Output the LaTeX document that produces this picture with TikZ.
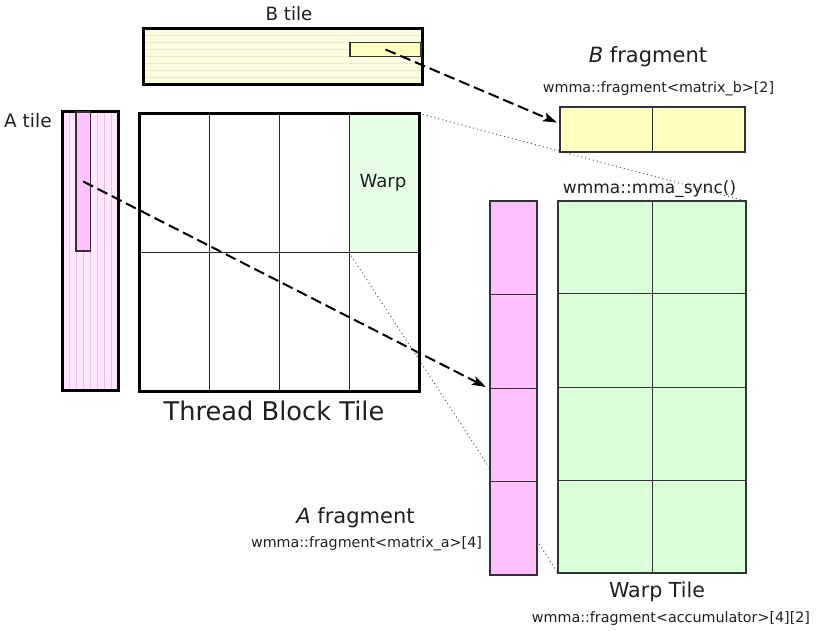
\documentclass[tikz,border=0pt]{standalone}
\usepackage{fontspec}
\setmainfont{DejaVu Sans}
\usetikzlibrary{arrows.meta,calc}
\definecolor{btilefill}{HTML}{FDFDE4}
\definecolor{btileline}{HTML}{EDEBC0}
\definecolor{bfragfill}{HTML}{FFFFC0}
\definecolor{atilefill}{HTML}{FFE6FF}
\definecolor{atileline}{HTML}{E8C0E8}
\definecolor{afragfill}{HTML}{FFC0FF}
\definecolor{warpfill}{HTML}{D8FFD8}
\definecolor{warpcell}{HTML}{E6FFE6}
\definecolor{edgecol}{HTML}{333333}
\newcommand{\fsz}[1]{\fontsize{#1}{#1}\selectfont}
\pgfdeclarelayer{bglayer}
\pgfdeclarelayer{backlayer}
\pgfsetlayers{bglayer,backlayer,main}
\begin{document}
\begin{tikzpicture}[x=1pt,y=-1pt,
  region/.style={rectangle,inner sep=0pt,outer sep=0pt,draw=none},
  thickbox/.style={draw=black,line width=3pt},
  fragedge/.style={draw=edgecol,line width=1.5pt},
  gridline/.style={draw=edgecol,line width=1pt},
  dasharrow/.style={line width=2pt,dash pattern=on 11pt off 5pt,-{Stealth[length=14pt,width=9pt,inset=3pt]}},
  dotline/.style={draw=black!65,line width=1pt,dash pattern=on 1pt off 3pt},
  lbl/.style={inner sep=0pt,anchor=base,text=black!88}
]
\useasboundingbox (0,0) rectangle (820,631);
\begin{pgfonlayer}{bglayer}
  \fill[white] (0,0) rectangle (820,631);
\end{pgfonlayer}

% ---- B tile ----
\node[region,fill=btilefill,minimum width=279pt,minimum height=56pt] (btile) at (283,56.5) {};
\foreach \k in {1,...,7}
  \draw[btileline,line width=1pt] ([yshift=-\k*7pt]btile.north west) -- ([yshift=-\k*7pt]btile.north east);
\draw[thickbox] (btile.north west) rectangle (btile.south east);
\node[region,fill=bfragfill,draw=edgecol,line width=1.2pt,minimum width=71pt,minimum height=14pt] (bsel) at (385.5,49.5) {};

% ---- A tile ----
\node[region,fill=atilefill,minimum width=56pt,minimum height=279pt] (atile) at (90.5,251) {};
\foreach \k in {1,...,7}
  \draw[atileline,line width=1pt] ([xshift=\k*7pt]atile.north west) -- ([xshift=\k*7pt]atile.south west);
\draw[thickbox] (atile.north west) rectangle (atile.south east);
\node[region,fill=afragfill,draw=edgecol,line width=1.2pt,minimum width=14.5pt,minimum height=139pt] (asel) at (83.25,181.5) {};

% ---- Thread block tile ----
\node[region,minimum width=279.5pt,minimum height=278pt] (tb) at (279.25,252.5) {};
\node[region,fill=warpcell,minimum width=69.9pt,minimum height=139pt] (warp) at (384.05,183) {};
\foreach \f in {0.25,0.5,0.75}
  \draw[gridline,draw=black!85] ($(tb.north west)!\f!(tb.north east)$) -- ($(tb.south west)!\f!(tb.south east)$);
\draw[gridline,draw=black!85] (tb.west) -- (tb.east);
\draw[thickbox] (tb.north west) rectangle (tb.south east);

% ---- B fragment ----
\node[region,fill=bfragfill,minimum width=185pt,minimum height=45pt] (bfrag) at (652.5,129.5) {};
\draw[gridline] (bfrag.north) -- (bfrag.south);
\draw[fragedge] (bfrag.north west) rectangle (bfrag.south east);

% ---- Warp tile ----
\node[region,fill=warpfill,minimum width=188pt,minimum height=372pt] (wtile) at (652,387) {};
\draw[gridline] (wtile.north) -- (wtile.south);
\foreach \f in {0.25,0.5,0.75}
  \draw[gridline] ($(wtile.north west)!\f!(wtile.south west)$) -- ($(wtile.north east)!\f!(wtile.south east)$);
\draw[fragedge] (wtile.north west) rectangle (wtile.south east);

% ---- A fragment ----
\node[region,fill=afragfill,minimum width=47pt,minimum height=374pt] (afrag) at (513.5,388) {};
\foreach \f in {0.25,0.5,0.75}
  \draw[gridline] ($(afrag.north west)!\f!(afrag.south west)$) -- ($(afrag.north east)!\f!(afrag.south east)$);
\draw[fragedge] (afrag.north west) rectangle (afrag.south east);

% ---- dotted correspondence lines ----
\begin{pgfonlayer}{backlayer}
  \draw[dotline] (warp.north east) -- (wtile.north east);
  \draw[dotline] (warp.south west) -- (wtile.south west);
\end{pgfonlayer}

% ---- dashed arrows ----
\coordinate (bfragin) at ($(bfrag.west)+(-3,-7)$);
\coordinate (afragin) at ($(afrag.west)+(-4,-1)$);
\draw[dasharrow] (bsel.center) -- (bfragin);
\draw[dasharrow] (asel.center) -- (afragin);

% ---- labels ----
\node[lbl,font=\fsz{18.3}] (btilelbl) at (289,21) {B tile};
\node[lbl,anchor=base west,font=\fsz{18.5}] (atilelbl) at (4,128) {A tile};
\node[lbl,font=\fsz{18.1}] (warplbl) at (383,188) {Warp};
\node[lbl,font=\fsz{25.7}] (tblbl) at (274,420) {Thread Block Tile};
\node[lbl,font=\fsz{21}] (bfraglbl) at (648,63) {\textit{B} fragment};
\node[lbl,font=\fsz{14.3}] (bfragcode) at (658.5,93) {wmma::fragment<matrix\_b>[2]};
\node[lbl,font=\fsz{17}] (mmalbl) at (649.5,194) {wmma::mma\_sync()};
\node[lbl,font=\fsz{21}] (afraglbl) at (355.5,523) {\textit{A} fragment};
\node[lbl,font=\fsz{14.3}] (afragcode) at (366.5,547) {wmma::fragment<matrix\_a>[4]};
\node[lbl,font=\fsz{20.6}] (wtilelbl) at (657,597) {Warp Tile};
\node[lbl,font=\fsz{14.3}] (wtilecode) at (671,622) {wmma::fragment<accumulator>[4][2]};
\end{tikzpicture}
\end{document}
